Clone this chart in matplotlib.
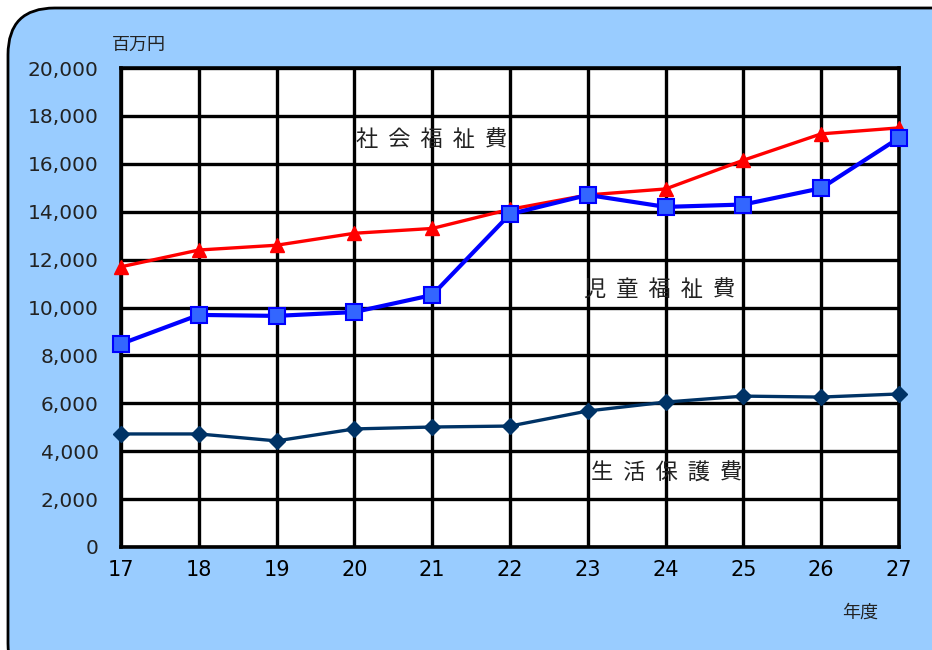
import numpy as np
import matplotlib
matplotlib.use('Agg')
import matplotlib.pyplot as plt
from matplotlib.patches import FancyBboxPatch

plt.rcParams['font.family'] = ['Noto Sans CJK JP', 'DejaVu Sans']

years = [17, 18, 19, 20, 21, 22, 23, 24, 25, 26, 27]
shakai = [11700, 12400, 12600, 13100, 13300, 14100, 14700, 14950, 16150, 17250, 17500]
jido = [8480, 9690, 9650, 9810, 10520, 13900, 14700, 14200, 14300, 14980, 17080]
seikatsu = [4720, 4720, 4430, 4930, 5010, 5050, 5680, 6050, 6300, 6260, 6390]
yticks = np.arange(0, 20001, 2000)

W, H = 932, 650
fig = plt.figure(figsize=(W / 100, H / 100), dpi=100)
fig.patch.set_facecolor('white')

# rounded light-blue panel (runs off the right/bottom edge)
panel = FancyBboxPatch((8 / W, -40 / H), (W + 40) / W, (H + 40 - 8) / H,
                       boxstyle="round,pad=0,rounding_size=0.05",
                       transform=fig.transFigure, facecolor='#99CCFF',
                       edgecolor='black', linewidth=2, zorder=-10,
                       mutation_aspect=W / H)
fig.patches.append(panel)

ax = fig.add_axes([121 / W, 1 - 547 / H, (899 - 121) / W, (547 - 68) / H])
ax.set_facecolor('white')

ax.plot(years, shakai, color='#FF0000', lw=2.4, marker='^', ms=10,
        mfc='#FF0000', mec='#FF0000', zorder=5, clip_on=False)
ax.plot(years, jido, color='#0000FF', lw=3, marker='s', ms=11,
        mfc='#3366FF', mec='#0000FF', mew=1.5, zorder=6, clip_on=False)
ax.plot(years, seikatsu, color='#003366', lw=2.4, marker='D', ms=8,
        mfc='#003366', mec='#003366', zorder=4, clip_on=False)

ax.set_xlim(17, 27)
ax.set_ylim(0, 20000)
ax.set_xticks(years)
ax.set_xticklabels([str(y) for y in years], fontsize=15, family='DejaVu Sans')
ax.set_yticks(yticks)
ax.set_yticklabels([f"{v:,}" for v in yticks], fontsize=14.5,
                   family='DejaVu Sans', color='#222222')
ax.tick_params(axis='y', length=0, pad=16)
ax.tick_params(axis='x', length=0, pad=9)
ax.grid(True, color='black', lw=2.4, zorder=1)
ax.set_axisbelow(True)
for s in ax.spines.values():
    s.set_linewidth(2.6)
    s.set_color('black')

ax.text(0.302, 0.85, "社  会  福  祉  費", transform=ax.transAxes, fontsize=16,
        ha='left', va='center', color='#222222', zorder=7)
ax.text(0.595, 0.535, "児  童  福  祉  費", transform=ax.transAxes, fontsize=16,
        ha='left', va='center', color='#222222', zorder=7)
ax.text(0.604, 0.155, "生  活  保  護  費", transform=ax.transAxes, fontsize=16,
        ha='left', va='center', color='#222222', zorder=7)

fig.text(112 / W, 1 - 45 / H, "百万円", fontsize=13, ha='left', va='center',
         color='#222222')
fig.text(842 / W, 1 - 613 / H, "年度", fontsize=13, ha='left', va='center',
         color='#222222')

fig.savefig('out.png', dpi=100)
